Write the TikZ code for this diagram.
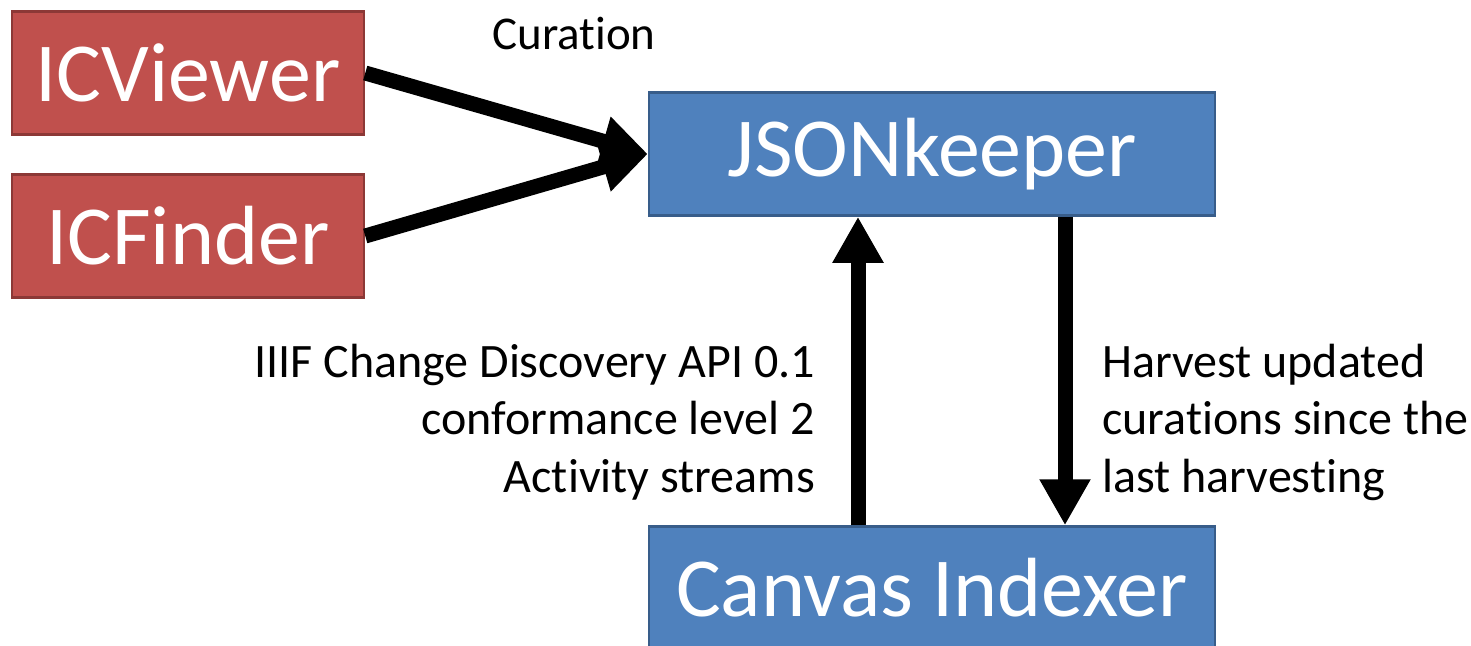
\documentclass[tikz,border=0pt]{standalone}
\usepackage{fontspec}
\setmainfont{Carlito}[Ligatures=NoCommon]
\usetikzlibrary{arrows.meta}
\definecolor{redfill}{HTML}{C0504D}
\definecolor{redline}{HTML}{8C3836}
\definecolor{bluefill}{HTML}{4F81BD}
\definecolor{blueline}{HTML}{385D8A}
\tikzset{
  redbox/.style={draw=redline, fill=redfill, line width=2.5pt, text=white, inner sep=0pt,
    minimum width=352pt, minimum height=123pt, font=\fontsize{84}{100}\selectfont},
  bluebox/.style={draw=blueline, fill=bluefill, line width=2.5pt, text=white, inner sep=0pt,
    minimum width=566pt, minimum height=123pt, font=\fontsize{84}{100}\selectfont},
  bigarrow/.style={line width=15pt, -{Triangle[width=48pt,length=46pt]}},
  lbl/.style={inner sep=0pt, font=\fontsize{48}{57.5}\selectfont}
}
\begin{document}
\begin{tikzpicture}[x=1pt,y=-1pt]
\useasboundingbox (0,0) rectangle (1471,645);
\clip (0,0) rectangle (1471,645);
\node[redbox] (viewer) at (188,73) {ICViewer};
\node[redbox] (finder) at (188,236) {ICFinder};
\node[bluebox] (json) at (932,154) {JSONkeeper};
\node[bluebox] (ci) at (932,588) {Canvas Indexer};
\node[lbl, anchor=base, font=\fontsize{47}{57}\selectfont] (cur) at (574,49) {Curation};
\node[lbl, anchor=base east, align=right] (api) at (815,492)
  {IIIF Change Discovery API 0.1\\conformance level 2\\Activity streams};
\node[lbl, anchor=base west, align=left] (harv) at (1102,492)
  {Harvest updated\\curations since the\\last harvesting};
\draw[bigarrow] (viewer.east) -- (json.west);
\draw[bigarrow] (finder.east) -- (json.west);
\draw[bigarrow] ([xshift=-74pt]ci.north) -- ([xshift=-74pt]json.south);
\draw[bigarrow] ([xshift=133pt]json.south) -- ([xshift=133pt]ci.north);
\end{tikzpicture}
\end{document}
